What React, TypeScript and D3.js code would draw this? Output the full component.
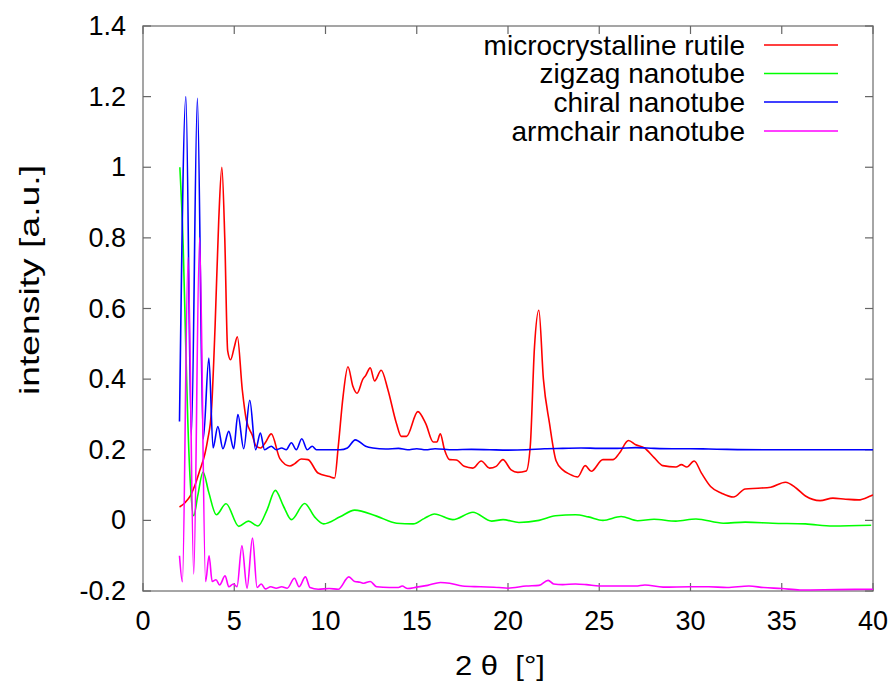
import React from "react";
import * as d3 from "d3";

// 2θ positions (degrees) and intensities for each simulated pattern
const rutileX = [2.0, 2.3, 2.6, 2.85, 3.1, 3.4, 3.55, 3.75, 3.95, 4.15, 4.32, 4.48, 4.64, 4.8, 5.0, 5.17, 5.44, 5.66, 6.0, 6.2, 6.45, 6.7, 7.03, 7.5, 8.05, 8.3, 8.67, 9.04, 9.59, 10.22, 10.5, 10.7, 10.96, 11.23, 11.5, 11.73, 12.05, 12.2, 12.45, 12.69, 13.05, 13.42, 13.88, 14.15, 14.44, 15.06, 15.5, 15.9, 16.1, 16.29, 16.52, 16.8, 17.17, 17.6, 18.08, 18.53, 18.99, 19.35, 19.72, 20.17, 20.54, 21.0, 21.22, 21.45, 21.69, 21.94, 22.27, 22.64, 23.0, 23.37, 23.82, 24.23, 24.56, 25.2, 25.75, 26.1, 26.6, 27.0, 27.48, 28.02, 28.48, 29.2, 29.5, 29.8, 30.2, 30.6, 31.1, 31.7, 32.35, 33.0, 33.7, 34.4, 35.2, 35.8, 36.3, 37.1, 37.8, 38.5, 39.2, 39.9, 40.0];
const rutileY = [0.038, 0.05, 0.07, 0.1, 0.14, 0.19, 0.23, 0.31, 0.55, 0.85, 1.0, 0.8, 0.48, 0.455, 0.49, 0.52, 0.37, 0.285, 0.24, 0.21, 0.205, 0.22, 0.245, 0.175, 0.154, 0.16, 0.174, 0.172, 0.134, 0.124, 0.12, 0.21, 0.35, 0.435, 0.38, 0.36, 0.4, 0.41, 0.432, 0.395, 0.425, 0.37, 0.276, 0.238, 0.238, 0.308, 0.273, 0.222, 0.222, 0.245, 0.2, 0.172, 0.171, 0.153, 0.148, 0.168, 0.148, 0.153, 0.172, 0.143, 0.136, 0.14, 0.21, 0.49, 0.595, 0.4, 0.276, 0.168, 0.143, 0.131, 0.123, 0.155, 0.139, 0.172, 0.172, 0.19, 0.226, 0.214, 0.205, 0.177, 0.155, 0.151, 0.158, 0.151, 0.168, 0.134, 0.096, 0.077, 0.066, 0.089, 0.091, 0.094, 0.108, 0.091, 0.069, 0.056, 0.063, 0.06, 0.058, 0.07, 0.072];

const zigzagX = [2.02, 2.2, 2.35, 2.45, 2.6, 2.78, 3.0, 3.29, 3.6, 4.02, 4.55, 5.25, 5.78, 6.3, 6.8, 7.25, 7.7, 8.13, 8.86, 9.4, 9.9, 10.8, 11.6, 12.8, 13.9, 14.8, 15.4, 15.97, 16.98, 18.08, 19.1, 19.73, 20.6, 21.7, 22.6, 23.7, 24.4, 25.2, 26.2, 27.1, 28.0, 29.2, 30.3, 31.8, 33.0, 34.5, 36.3, 37.8, 39.9];
const zigzagY = [1.0, 0.78, 0.48, 0.29, 0.1, 0.013, 0.07, 0.137, 0.08, 0.016, 0.047, -0.017, -0.002, -0.016, 0.03, 0.085, 0.04, 0.002, 0.048, 0.01, -0.01, 0.01, 0.029, 0.012, -0.008, -0.01, 0.005, 0.018, 0.002, 0.023, -0.002, 0.002, -0.006, 0.0, 0.013, 0.016, 0.01, 0.0, 0.011, -0.001, 0.003, -0.002, 0.004, -0.008, -0.005, -0.008, -0.01, -0.016, -0.014];

const chiralX = [2.0, 2.35, 2.65, 2.98, 3.3, 3.61, 3.84, 4.1, 4.38, 4.7, 4.97, 5.2, 5.52, 5.85, 6.17, 6.43, 6.66, 7.03, 7.3, 7.6, 7.85, 8.13, 8.4, 8.7, 9.0, 9.27, 9.5, 10.0, 10.8, 11.2, 11.63, 12.2, 12.6, 13.3, 14.0, 14.5, 15.0, 15.5, 16.0, 17.0, 18.0, 19.0, 20.0, 21.0, 22.0, 23.0, 24.0, 25.0, 26.0, 27.0, 28.0, 29.0, 30.0, 31.0, 32.0, 34.0, 36.0, 38.0, 40.0];
const chiralY = [0.28, 1.2, 0.24, 1.195, 0.23, 0.46, 0.205, 0.266, 0.203, 0.252, 0.203, 0.3, 0.203, 0.34, 0.2, 0.247, 0.2, 0.21, 0.2, 0.205, 0.2, 0.22, 0.2, 0.231, 0.2, 0.21, 0.2, 0.2, 0.2, 0.205, 0.228, 0.21, 0.205, 0.202, 0.204, 0.2, 0.203, 0.2, 0.203, 0.2, 0.201, 0.2, 0.199, 0.2, 0.203, 0.204, 0.205, 0.204, 0.204, 0.206, 0.204, 0.203, 0.203, 0.202, 0.201, 0.2, 0.2, 0.2, 0.2];

const armchairX = [2.0, 2.16, 2.47, 2.78, 3.1, 3.43, 3.62, 3.79, 4.0, 4.2, 4.5, 4.7, 4.95, 5.15, 5.42, 5.7, 6.0, 6.25, 6.48, 6.7, 7.0, 7.3, 7.6, 7.9, 8.3, 8.55, 8.9, 9.15, 9.6, 10.2, 10.7, 11.28, 11.6, 11.9, 12.1, 12.45, 12.8, 13.5, 14.0, 14.2, 14.5, 15.0, 15.6, 16.3, 16.8, 17.5, 18.5, 19.5, 20.0, 21.0, 21.7, 22.2, 22.5, 23.0, 23.7, 24.3, 25.0, 26.2, 27.0, 27.5, 28.5, 30.0, 31.0, 32.0, 33.2, 34.0, 35.0, 36.0, 38.0, 40.0];
const armchairY = [-0.1, -0.174, 0.744, -0.152, 0.8, -0.173, -0.1, -0.173, -0.168, -0.183, -0.157, -0.188, -0.18, -0.188, -0.072, -0.192, -0.05, -0.19, -0.18, -0.194, -0.188, -0.192, -0.188, -0.192, -0.164, -0.188, -0.16, -0.19, -0.195, -0.193, -0.195, -0.16, -0.173, -0.175, -0.178, -0.173, -0.188, -0.19, -0.19, -0.186, -0.193, -0.189, -0.184, -0.176, -0.178, -0.186, -0.188, -0.19, -0.192, -0.186, -0.184, -0.17, -0.18, -0.182, -0.18, -0.182, -0.186, -0.186, -0.186, -0.183, -0.189, -0.188, -0.188, -0.19, -0.186, -0.19, -0.193, -0.197, -0.196, -0.195];

const seriesNames = ["microcrystalline rutile", "zigzag nanotube", "chiral nanotube", "armchair nanotube"];
const seriesColors = ["#ff0000", "#00ff00", "#0000ff", "#ff00ff"];

const xTicks = [0, 5, 10, 15, 20, 25, 30, 35, 40];
const yTicks = [-0.2, 0, 0.2, 0.4, 0.6, 0.8, 1, 1.2, 1.4];
const yTickLabels = ["-0.2", "0", "0.2", "0.4", "0.6", "0.8", "1", "1.2", "1.4"];

const W = 892;
const H = 682;
const M = { left: 143, right: 873, top: 26, bottom: 591 };
const FONT = "'Liberation Sans', Arial, Helvetica, sans-serif";

export default function App() {
  const x = d3.scaleLinear().domain([0, 40]).range([M.left, M.right]);
  const y = d3.scaleLinear().domain([-0.2, 1.4]).range([M.bottom, M.top]);

  const seriesData: [number, number][][] = [
    rutileX.map((v, i) => [v, rutileY[i]]),
    zigzagX.map((v, i) => [v, zigzagY[i]]),
    chiralX.map((v, i) => [v, chiralY[i]]),
    armchairX.map((v, i) => [v, armchairY[i]]),
  ];

  const line = d3
    .line<[number, number]>()
    .x((d) => x(d[0]))
    .y((d) => y(d[1]))
    .curve(d3.curveMonotoneX);

  const tickLen = 8;
  const fontSize = 27;
  const legendFont = 28;
  const legendRows = [45, 73.5, 102, 131];

  return (
    <svg
      width={W}
      height={H}
      style={{ position: "absolute", left: 0, top: 0, background: "#fff" }}
      fontFamily={FONT}
    >
      <defs>
        <clipPath id="plot-clip">
          <rect x={M.left} y={M.top} width={M.right - M.left} height={M.bottom - M.top} />
        </clipPath>
      </defs>

      {/* frame */}
      <rect
        x={M.left}
        y={M.top}
        width={M.right - M.left}
        height={M.bottom - M.top}
        fill="none"
        stroke="#888"
        strokeWidth={1.5}
      />

      {/* ticks on all four sides, pointing inward */}
      {xTicks.map((t) => (
        <g key={"xt" + t}>
          <line x1={x(t)} x2={x(t)} y1={M.bottom} y2={M.bottom - tickLen} stroke="#666" strokeWidth={1.2} />
          <line x1={x(t)} x2={x(t)} y1={M.top} y2={M.top + tickLen} stroke="#666" strokeWidth={1.2} />
          <text x={x(t)} y={621} textAnchor="middle" dominantBaseline="central" fontSize={fontSize} fill="#000">
            {t}
          </text>
        </g>
      ))}
      {yTicks.map((t, i) => (
        <g key={"yt" + t}>
          <line x1={M.left} x2={M.left + tickLen} y1={y(t)} y2={y(t)} stroke="#666" strokeWidth={1.2} />
          <line x1={M.right} x2={M.right - tickLen} y1={y(t)} y2={y(t)} stroke="#666" strokeWidth={1.2} />
          <text x={126} y={y(t)} textAnchor="end" dominantBaseline="central" fontSize={fontSize} fill="#000">
            {yTickLabels[i]}
          </text>
        </g>
      ))}

      {/* axis titles */}
      <text
        x={500}
        y={665}
        textAnchor="middle"
        dominantBaseline="central"
        fontSize={legendFont}
        textLength={90}
        lengthAdjust="spacingAndGlyphs"
        fill="#000"
        style={{ whiteSpace: "pre" }}
      >
        {"2 θ  [°]"}
      </text>
      <text
        transform={`translate(29, 280) rotate(-90)`}
        textAnchor="middle"
        dominantBaseline="central"
        fontSize={legendFont}
        textLength={230}
        lengthAdjust="spacingAndGlyphs"
        fill="#000"
      >
        intensity [a.u.]
      </text>

      {/* curves */}
      <g clipPath="url(#plot-clip)">
        {seriesData.map((d, i) => (
          <path key={seriesNames[i]} d={line(d) ?? ""} fill="none" stroke={seriesColors[i]} strokeWidth={1.6} strokeLinejoin="round" />
        ))}
      </g>

      {/* legend */}
      {seriesNames.map((name, i) => (
        <g key={"lg" + name}>
          <text x={745} y={legendRows[i]} textAnchor="end" dominantBaseline="central" fontSize={legendFont} fill="#000">
            {name}
          </text>
          <line x1={764} x2={838} y1={legendRows[i]} y2={legendRows[i]} stroke={seriesColors[i]} strokeWidth={1.6} />
        </g>
      ))}
    </svg>
  );
}
